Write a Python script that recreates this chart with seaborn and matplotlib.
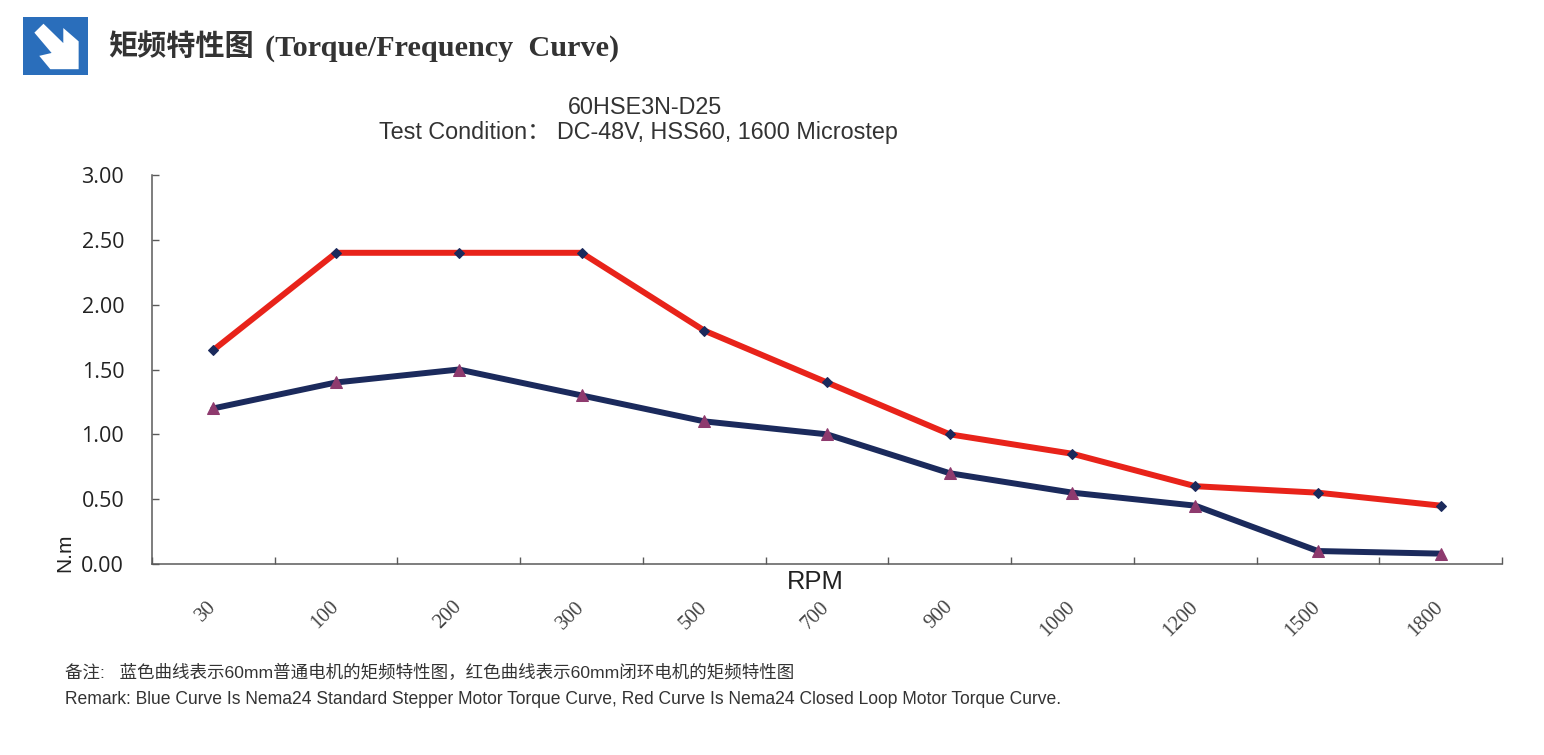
import matplotlib
matplotlib.use('Agg')
import matplotlib.pyplot as plt
import seaborn as sns
from matplotlib.patches import Polygon, Rectangle
from matplotlib.ticker import FixedLocator

rpm = ['30', '100', '200', '300', '500', '700', '900', '1000', '1200', '1500', '1800']
closed_loop = [1.65, 2.40, 2.40, 2.40, 1.80, 1.40, 1.00, 0.85, 0.60, 0.55, 0.45]
stepper = [1.20, 1.40, 1.50, 1.30, 1.10, 1.00, 0.70, 0.55, 0.45, 0.10, 0.08]
y_ticks = [0, 0.5, 1, 1.5, 2, 2.5, 3]

W, H = 1544, 755
RED = '#e8231a'
NAVY = '#1b2a5c'
PURPLE = '#8e3a6e'
AXIS = '#5a5a5a'
CJK = ['Liberation Sans', 'Noto Sans CJK SC']
CJK_SERIF = ['Liberation Serif', 'Noto Sans CJK SC']


def fx(px):
    return px / W


def fy(py):
    return 1 - py / H


sns.set_theme(style='white')
fig = plt.figure(figsize=(W / 100, H / 100), dpi=100, facecolor='white')
ax = fig.add_axes([fx(152), fy(564), fx(1502) - fx(152), fy(175) - fy(564)])

sns.lineplot(x=rpm, y=closed_loop, sort=False, ax=ax, color=RED, linewidth=4.3,
             marker='D', markersize=5, markerfacecolor=NAVY, markeredgecolor=NAVY, errorbar=None)
sns.lineplot(x=rpm, y=stepper, sort=False, ax=ax, color=NAVY, linewidth=4.3,
             marker='^', markersize=8, markerfacecolor=PURPLE, markeredgecolor=PURPLE, errorbar=None)

ax.set_xlim(-0.5, 10.5)
ax.set_ylim(0, 3)
sns.despine(ax=ax)
for side in ['left', 'bottom']:
    ax.spines[side].set_color(AXIS)
    ax.spines[side].set_linewidth(1.1)

# labels sit on the categories, tick marks between them
ax.set_xticks(range(len(rpm)))
ax.set_xticklabels(rpm, rotation=45, ha='right', va='center', rotation_mode='anchor',
                   fontsize=15, family='Liberation Serif', color='#444444')
ax.tick_params(axis='x', which='major', length=0, pad=29)
ax.xaxis.set_minor_locator(FixedLocator([i + 0.5 for i in range(-1, len(rpm))]))
ax.tick_params(axis='x', which='minor', direction='in', length=5, width=1, color=AXIS, bottom=True)

ax.set_yticks(y_ticks)
ax.set_yticklabels(['%.2f' % v for v in y_ticks], fontsize=15.5, family='Open Sans', color='#222222')
ax.tick_params(axis='y', which='major', direction='in', length=5, width=1, color=AXIS, left=True, pad=20)
ax.set_xlabel('')
ax.set_ylabel('')

# header icon
fig.add_artist(Rectangle((fx(23), fy(75)), 65 / W, 58 / H, transform=fig.transFigure,
                         facecolor='#2a6ebb', edgecolor='none'))
arrow = [(0.175, 0.27), (0.315, 0.116), (0.62, 0.45), (0.62, 0.19), (0.856, 0.42),
         (0.856, 0.90), (0.42, 0.90), (0.25, 0.67), (0.44, 0.62)]
fig.add_artist(Polygon([(fx(23 + a * 65), fy(17 + b * 58)) for a, b in arrow],
                       transform=fig.transFigure, facecolor='white', edgecolor='none'))

fig.text(fx(108), fy(47), '矩频特性图', fontsize=21, family=CJK_SERIF, fontweight='bold',
         color='#333333', va='center', ha='left')
fig.text(fx(265), fy(49), '(Torque/Frequency  Curve)', fontsize=21.8, family='Liberation Serif',
         fontweight='bold', color='#333333', va='center', ha='left')

fig.text(fx(645), fy(107), '60HSE3N-D25', fontsize=16.8, family=CJK, color='#333333', ha='center', va='center')
fig.text(fx(638), fy(132), 'Test Condition： DC-48V, HSS60, 1600 Microstep', fontsize=16.8, family=CJK,
         color='#333333', ha='center', va='center')

fig.text(fx(815), fy(582), 'RPM', fontsize=18.4, family='Liberation Sans', color='#222222', ha='center', va='center')
fig.text(fx(65), fy(553), 'N.m', fontsize=15, family='Liberation Sans', color='#222222', rotation=90,
         ha='center', va='center')

fig.text(fx(65), fy(672), '备注:   蓝色曲线表示60mm普通电机的矩频特性图，红色曲线表示60mm闭环电机的矩频特性图',
         fontsize=12.6, family=CJK, color='#333333', ha='left', va='center')
fig.text(fx(65), fy(699), 'Remark: Blue Curve Is Nema24 Standard Stepper Motor Torque Curve, '
         'Red Curve Is Nema24 Closed Loop Motor Torque Curve.',
         fontsize=12.65, family='Liberation Sans', color='#333333', ha='left', va='center')

fig.savefig('out.png', dpi=100, facecolor='white')
